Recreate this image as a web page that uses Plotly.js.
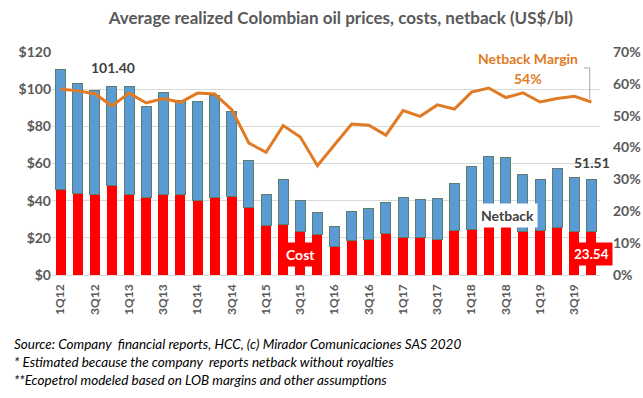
<!DOCTYPE html>
<html>
<head>
<meta charset="utf-8">
<script src="https://cdn.plot.ly/plotly-3.0.1.min.js"></script>
<style>html,body{margin:0;padding:0;background:#fff;}#chart{width:643px;height:398px;}</style>
</head>
<body>
<div id="chart"></div>
<script>
const quarters = [
  "1Q12","2Q12","3Q12","4Q12","1Q13","2Q13","3Q13","4Q13",
  "1Q14","2Q14","3Q14","4Q14","1Q15","2Q15","3Q15","4Q15",
  "1Q16","2Q16","3Q16","4Q16","1Q17","2Q17","3Q17","4Q17",
  "1Q18","2Q18","3Q18","4Q18","1Q19","2Q19","3Q19","4Q19"
];
const price = [
  110.8,103.3,99.5,101.4,101.7,90.9,98.4,93.8,
  93.6,96.8,88.2,61.8,43.5,51.6,40.2,33.4,
  26.0,34.3,35.9,39.2,41.9,40.8,41.3,49.4,
  58.2,63.9,63.4,54.2,51.6,57.5,52.3,51.51
];
const cost = [
  46.2,43.6,43.1,48.0,43.5,41.9,43.5,43.1,
  40.2,41.9,42.4,36.3,26.6,27.3,23.2,21.9,
  15.6,18.3,19.2,22.1,20.3,20.3,19.2,23.7,
  24.6,25.9,25.9,23.2,23.7,25.7,23.2,23.54
];
const marginPct = [
  58.4,57.8,56.9,53.1,57.1,54.0,55.4,54.2,
  57.1,56.8,51.9,41.4,38.5,46.9,43.3,34.3,
  40.9,47.4,47.0,43.9,51.6,49.8,53.4,52.1,
  57.4,58.7,55.7,57.2,54.3,55.4,56.1,54.3
];
const tickLabels = ["1Q12","3Q12","1Q13","3Q13","1Q14","3Q14","1Q15","3Q15",
                    "1Q16","3Q16","1Q17","3Q17","1Q18","3Q18","1Q19","3Q19"];

const netback = price.map((p, i) => +(p - cost[i]).toFixed(2));

const FONT = "Lato, 'Open Sans', sans-serif";
const GREY = "#595959";

const traces = [
  {type:"bar", name:"Cost", x:quarters, y:cost,
   marker:{color:"#FF0000", line:{width:0}}, hoverinfo:"skip"},
  {type:"bar", name:"Netback", x:quarters, y:netback,
   marker:{color:"#5B9BD5", line:{color:"#5E7D6B", width:1}}, hoverinfo:"skip"},
  {type:"scatter", mode:"lines", name:"Netback Margin", x:quarters, y:marginPct,
   yaxis:"y2", line:{color:"#E07B24", width:3}, hoverinfo:"skip"}
];

const layout = {
  width:643, height:398,
  margin:{l:52, r:43, t:52, b:123},
  paper_bgcolor:"#fff", plot_bgcolor:"#fff",
  showlegend:false,
  barmode:"stack", bargap:0.41,
  font:{family:FONT, color:GREY},
  title:{text:"<b>Average realized Colombian oil prices, costs, netback (US$/bl)</b>",
         font:{family:FONT, size:17, color:GREY}, x:0.53, xanchor:"center", y:0.955, yanchor:"middle"},
  xaxis:{type:"category", tickmode:"array", tickvals:tickLabels, ticktext:tickLabels,
         tickangle:-90, tickfont:{family:FONT, size:12, color:GREY, weight:"bold"},
         ticklabelstandoff:6,
         showgrid:false, showline:false, ticks:"", ticklen:0, range:[-0.5,31.5]},
  yaxis:{range:[0,120], dtick:20, tickprefix:"$", showgrid:true, gridcolor:"#D9D9D9",
         gridwidth:1, zeroline:true, zerolinecolor:"#D9D9D9", showline:false,
         tickfont:{family:FONT, size:14, color:GREY, weight:"bold"}, ticks:"", ticklen:0},
  yaxis2:{range:[0,70], dtick:10, ticksuffix:"%", overlaying:"y", side:"right",
          showgrid:false, zeroline:false, showline:false, ticklabelstandoff:12,
          tickfont:{family:FONT, size:14, color:GREY, weight:"bold"}, ticks:"", ticklen:0},
  shapes:[
    {type:"line", xref:"x", yref:"y2", x0:30.55, x1:30.9, y0:65, y1:65, line:{color:"#A6A6A6", width:1}},
    {type:"line", xref:"x", yref:"y2", x0:30.9, x1:30.9, y0:65, y1:55.2, line:{color:"#A6A6A6", width:1}}
  ],
  annotations:[
    {text:"<b>101.40</b>", x:3.09, y:111.4, xref:"x", yref:"y", showarrow:false,
     font:{family:FONT, size:14, color:"#404040"}},
    {text:"<b>51.51</b>", x:31.06, y:60.8, xref:"x", yref:"y", showarrow:false,
     font:{family:FONT, size:14, color:"#404040"}},
    {text:"<b>Cost</b>", x:14.0, y:11.3, xref:"x", yref:"y", showarrow:false,
     bgcolor:"#FF0000", borderpad:3, font:{family:FONT, size:14, color:"#FFFFFF"}},
    {text:"<b>23.54</b>", x:31.0, y:11.3, xref:"x", yref:"y", showarrow:false,
     bgcolor:"#FF0000", borderpad:3, font:{family:FONT, size:13.5, color:"#FFFFFF"}},
    {text:"<b>Netback</b>", x:26.1, y:31.8, xref:"x", yref:"y", showarrow:false,
     bgcolor:"#FFFFFF", borderpad:3, font:{family:FONT, size:14, color:"#404040"}},
    {text:"<b>Netback Margin</b>", x:27.3, y:68.0, xref:"x", yref:"y2", showarrow:false,
     font:{family:FONT, size:14, color:"#E07B24"}},
    {text:"<b>54%</b>", x:27.3, y:61.8, xref:"x", yref:"y2", showarrow:false,
     font:{family:FONT, size:14, color:"#E07B24"}},
    {text:"<i>Source: Company  financial reports, HCC, (c) Mirador Comunicaciones SAS 2020</i>",
     x:12, y:344, xref:"paper", yref:"paper", showarrow:false, xanchor:"left", yanchor:"middle",
     font:{family:FONT, size:13.5, color:"#000"}},
    {text:"<i>* Estimated because the company  reports netback without royalties</i>",
     x:12, y:362, xref:"paper", yref:"paper", showarrow:false, xanchor:"left", yanchor:"middle",
     font:{family:FONT, size:13.5, color:"#000"}},
    {text:"<i>**Ecopetrol modeled based on LOB margins and other assumptions</i>",
     x:12, y:380, xref:"paper", yref:"paper", showarrow:false, xanchor:"left", yanchor:"middle",
     font:{family:FONT, size:13.5, color:"#000"}}
  ]
};

// convert footer pixel positions to paper coordinates
const plotW = 643 - 52 - 43, plotH = 398 - 52 - 123;
layout.annotations.forEach(a => {
  if (a.xref === "paper") {
    a.x = (a.x - 52) / plotW;
    a.y = (398 - 123 - a.y) / plotH;
  }
});

Plotly.newPlot("chart", traces, layout, {displayModeBar:false, staticPlot:true});
</script>
</body>
</html>
